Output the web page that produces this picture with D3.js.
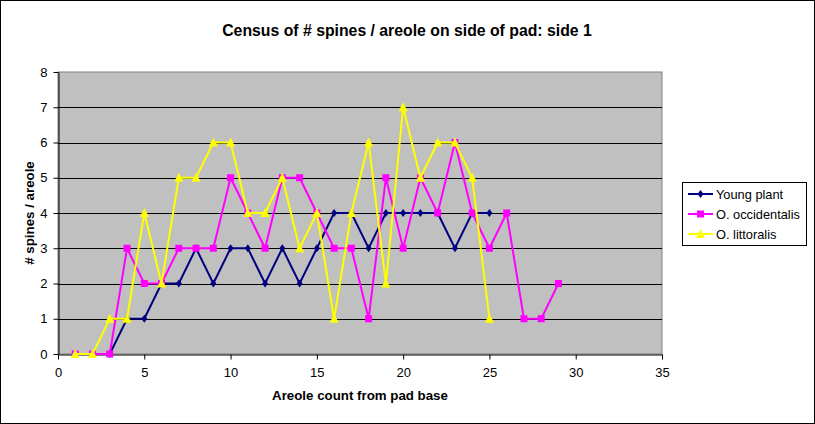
<!DOCTYPE html>
<html><head><meta charset="utf-8">
<script src="https://cdn.jsdelivr.net/npm/d3@7"></script>
<style>body{margin:0;background:#fff}svg{display:block}</style>
</head><body>
<svg id="c" width="815" height="424"></svg>
<script>
const titleText = "Census of # spines / areole on side of pad: side 1";
const xTitle = "Areole count from pad base";
const yTitle = "# spines / areole";
const seriesNames = ["Young plant", "O. occidentalis", "O. littoralis"];
const seriesColors = ["#000080", "#FF00FF", "#FFFF00"];
const youngX = [1,2,3,4,5,6,7,8,9,10,11,12,13,14,15,16,17,18,19,20,21,22,23,24,25];
const youngY = [0,0,0,1,1,2,2,3,2,3,3,2,3,2,3,4,4,3,4,4,4,4,3,4,4];
const occX = [1,2,3,4,5,6,7,8,9,10,11,12,13,14,15,16,17,18,19,20,21,22,23,24,25,26,27,28,29];
const occY = [0,0,0,3,2,2,3,3,3,5,4,3,5,5,4,3,3,1,5,3,5,4,6,4,3,4,1,1,2];
const litX = [1,2,3,4,5,6,7,8,9,10,11,12,13,14,15,16,17,18,19,20,21,22,23,24,25];
const litY = [0,0,1,1,4,2,5,5,6,6,4,4,5,3,4,1,4,6,2,7,5,6,6,5,1];
const xTicks = [0,5,10,15,20,25,30,35];
const yTicks = [0,1,2,3,4,5,6,7,8];

const svg = d3.select("#c");
const font = "Liberation Sans, Arial, sans-serif";
svg.append("rect").attr("x",0.5).attr("y",0.5).attr("width",814).attr("height",423)
  .attr("fill","#fff").attr("stroke","#000");

const L=58, R=662, T=72, B=354;
const x = d3.scaleLinear().domain([0,35]).range([L,R]);
const y = d3.scaleLinear().domain([0,8]).range([B,T]);

svg.append("rect").attr("x",L).attr("y",T).attr("width",R-L).attr("height",B-T)
  .attr("fill","#C0C0C0").attr("stroke","#808080");

svg.append("g").selectAll("line").data(yTicks.slice(1,-1)).join("line")
  .attr("x1",L).attr("x2",R).attr("y1",d=>Math.round(y(d))+0.5).attr("y2",d=>Math.round(y(d))+0.5)
  .attr("stroke","#000").attr("stroke-width",1);

const xAxis = svg.append("g").attr("transform",`translate(0,${B+0.5})`)
  .call(d3.axisBottom(x).tickValues(xTicks).tickSize(5).tickPadding(8).tickSizeOuter(0));
const yAxis = svg.append("g").attr("transform",`translate(${L+0.5},0)`)
  .call(d3.axisLeft(y).tickValues(yTicks).tickSize(5).tickPadding(6).tickSizeOuter(0));
[xAxis,yAxis].forEach(g=>{
  g.select(".domain").attr("stroke","#000");
  g.selectAll(".tick line").attr("stroke","#000");
  g.selectAll("text").attr("font-family",font).attr("font-size",13).attr("fill","#000");
});

function marker(g, i, cx, cy){
  const c = seriesColors[i];
  if(i===0){
    g.append("path").attr("d",`M${cx},${cy-4}L${cx+3},${cy}L${cx},${cy+4}L${cx-3},${cy}Z`).attr("fill",c);
  } else if(i===1){
    g.append("rect").attr("x",cx-3.5).attr("y",cy-3.5).attr("width",7).attr("height",7).attr("fill",c);
  } else {
    g.append("path").attr("d",`M${cx},${cy-5}L${cx+4.5},${cy+4}L${cx-4.5},${cy+4}Z`).attr("fill",c);
  }
}

const data = [[youngX,youngY],[occX,occY],[litX,litY]];
const line = d3.line().x(d=>x(d[0])).y(d=>y(d[1]));
data.forEach(([xs,ys],i)=>{
  const pts = xs.map((v,k)=>[v,ys[k]]);
  const g = svg.append("g");
  g.append("path").datum(pts).attr("d",line).attr("fill","none")
    .attr("stroke",seriesColors[i]).attr("stroke-width",2);
  pts.forEach(p=>marker(g,i,x(p[0]),y(p[1])));
});

svg.append("text").attr("x",407).attr("y",36).attr("text-anchor","middle")
  .attr("font-family",font).attr("font-weight","bold").attr("font-size",15.8).text(titleText);
svg.append("text").attr("x",(L+R)/2).attr("y",400).attr("text-anchor","middle")
  .attr("font-family",font).attr("font-weight","bold").attr("font-size",13.3).text(xTitle);
svg.append("text").attr("transform",`translate(34,${(T+B)/2}) rotate(-90)`).attr("text-anchor","middle")
  .attr("font-family",font).attr("font-weight","bold").attr("font-size",13.3).text(yTitle);

const lg = svg.append("g");
lg.append("rect").attr("x",682.5).attr("y",182.5).attr("width",124).attr("height",63)
  .attr("fill","#fff").attr("stroke","#000");
seriesNames.forEach((n,i)=>{
  const cy = 194 + i*20;
  lg.append("line").attr("x1",688).attr("x2",713).attr("y1",cy).attr("y2",cy)
    .attr("stroke",seriesColors[i]).attr("stroke-width",2);
  marker(lg,i,700.5,cy);
  lg.append("text").attr("x",716).attr("y",cy+5).attr("font-family",font).attr("font-size",12.8).text(n);
});
</script>
</body></html>
